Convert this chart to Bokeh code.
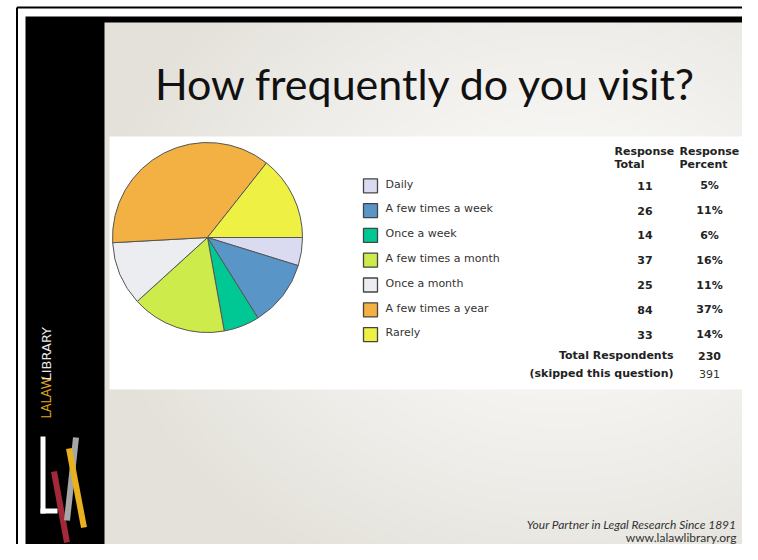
import math
import numpy as np
from bokeh.plotting import figure
from bokeh.models import ColumnDataSource, Range1d
from bokeh.core.properties import value
from bokeh.embed import file_html
from bokeh.resources import INLINE

# ---------------- data ----------------
categories = ["Daily", "A few times a week", "Once a week", "A few times a month",
              "Once a month", "A few times a year", "Rarely"]
response_total = [11, 26, 14, 37, 25, 84, 33]
response_percent = ["5%", "11%", "6%", "16%", "11%", "37%", "14%"]
total_respondents = 230
skipped = 391
title = "How frequently do you visit?"
palette = ["#DADAF0", "#5A95C7", "#00C894", "#CDEB4A", "#ECEDF1", "#F2B142", "#EEF043"]

# ---------------- figure ----------------
W, H = 742, 544
p = figure(width=W, height=H, x_range=Range1d(0, W), y_range=Range1d(0, H),
           output_backend="svg", toolbar_location=None,
           x_axis_location=None, y_axis_location=None, min_border=0,
           outline_line_color=None, background_fill_color="white",
           border_fill_color="white")
p.grid.visible = False


def X(px):
    return px


def Y(py):
    return H - py


# outer thin lines
p.segment(x0=[X(16.5), X(16.5)], y0=[-10, Y(7)], x1=[X(16.5), W + 10], y1=[Y(7), Y(7)],
          line_color="black", line_width=2)
# black slide frame
p.quad(left=[X(25)], right=[X(760)], top=[Y(16)], bottom=[-20], fill_color="black", line_color=None)

# slide background gradient
nx, ny = 161, 134
img = np.empty((ny, nx), dtype=np.uint32)
view = img.view(dtype=np.uint8).reshape((ny, nx, 4))
sx0, sx1, sy0, sy1 = 104, 748, 22, 556
cx, cy = 560, 250
c0 = (251, 251, 250)
c1 = (228, 225, 218)
for j in range(ny):
    py = sy1 - (j + 0.5) * (sy1 - sy0) / ny
    for i in range(nx):
        px = sx0 + (i + 0.5) * (sx1 - sx0) / nx
        d = math.hypot((px - cx) / 470.0, (py - cy) / 370.0)
        t = min(1.0, d) ** 1.3
        view[j, i, 0] = int(c0[0] + (c1[0] - c0[0]) * t)
        view[j, i, 1] = int(c0[1] + (c1[1] - c0[1]) * t)
        view[j, i, 2] = int(c0[2] + (c1[2] - c0[2]) * t)
        view[j, i, 3] = 255
p.image_rgba(image=[img], x=X(sx0), y=Y(sy1), dw=sx1 - sx0, dh=sy1 - sy0)

# white chart panel
p.quad(left=[X(109)], right=[X(748)], top=[Y(136)], bottom=[Y(389)], fill_color="white", line_color=None)

# title
p.text(x=[X(426)], y=[Y(83)], text=[title], text_font=value("Lato"), text_font_size="43px",
       text_align="center", text_baseline="alphabetic", text_color="#111111")

# ---------------- pie ----------------
total = float(sum(response_total))
cum = np.cumsum([0] + response_total) / total
starts = [-cum[i + 1] * 2 * math.pi for i in range(len(response_total))]
ends = [-cum[i] * 2 * math.pi for i in range(len(response_total))]
pie_src = ColumnDataSource(dict(start=starts, end=ends, color=palette, cat=categories))
p.wedge(x=X(207), y=Y(237), radius=95, start_angle="start", end_angle="end",
        fill_color="color", line_color="#555555", line_width=1, source=pie_src)

# ---------------- legend / table ----------------
row0, dy = 185.3, 24.8
rows_y = [Y(row0 + i * dy) for i in range(len(categories))]
p.rect(x=[X(370)] * len(categories), y=rows_y, width=14, height=14,
       fill_color=palette, line_color="#444444", line_width=1.3)
p.text(x=[X(385)] * len(categories), y=[y + 1.8 for y in rows_y], text=categories,
       text_font=value("DejaVu Sans"), text_font_size="11px", text_baseline="middle",
       text_color="#333333")

bold = dict(text_font=value("DejaVu Sans"), text_font_size="11px", text_font_style="bold",
            text_color="#222222")
p.text(x=[X(644.5)] * len(categories), y=rows_y, text=[str(v) for v in response_total],
       text_align="center", text_baseline="middle", **bold)
p.text(x=[X(709)] * len(categories), y=rows_y, text=response_percent,
       text_align="center", text_baseline="middle", **bold)

# headers
p.text(x=[X(614), X(614), X(679), X(679)], y=[Y(151), Y(164), Y(151), Y(164)],
       text=["Response", "Total", "Response", "Percent"],
       text_align="left", text_baseline="middle", **bold)

# totals
p.text(x=[X(673)], y=[Y(355)], text=["Total Respondents"], text_align="right",
       text_baseline="middle", **bold)
p.text(x=[X(709)], y=[Y(355)], text=[str(total_respondents)], text_align="center",
       text_baseline="middle", **bold)
p.text(x=[X(673)], y=[Y(373)], text=["(skipped this question)"], text_align="right",
       text_baseline="middle", **bold)
p.text(x=[X(709)], y=[Y(373)], text=[str(skipped)], text_align="center",
       text_baseline="middle", text_font=value("DejaVu Sans"), text_font_size="11px",
       text_color="#333333")

# ---------------- left bar branding ----------------
p.text(x=[X(46)], y=[Y(418)], text=["LALAW"], angle=math.pi / 2, text_font=value("Lato"),
       text_font_size="12.5px", text_align="left", text_baseline="middle", text_color="#E0A620")
p.text(x=[X(46)], y=[Y(380)], text=["LIBRARY"], angle=math.pi / 2, text_font=value("DejaVu Sans"),
       text_font_size="13px", text_align="left", text_baseline="middle", text_color="#E8E8E8")

# logo
p.quad(left=[X(40), X(40)], right=[X(45), X(57)], top=[Y(436), Y(508)], bottom=[Y(513), Y(513)],
       fill_color="white", line_color=None)
p.segment(x0=[X(53.5)], y0=[Y(471)], x1=[X(66.5)], y1=[Y(542)], line_color="#A3283A",
          line_width=6, line_cap="butt")
p.segment(x0=[X(75.5)], y0=[Y(437)], x1=[X(66.5)], y1=[Y(520)], line_color="#A6A6A6",
          line_width=6, line_cap="butt")
p.segment(x0=[X(68.5)], y0=[Y(448)], x1=[X(83.5)], y1=[Y(527)], line_color="#E9B11E",
          line_width=6, line_cap="butt")

# footer
p.text(x=[X(736)], y=[Y(524)], text=["Your Partner in Legal Research Since 1891"],
       text_font=value("Lato"), text_font_size="12px", text_font_style="italic",
       text_align="right", text_baseline="middle", text_color="#333333")
p.text(x=[X(736)], y=[Y(537)], text=["www.lalawlibrary.org"],
       text_font=value("Lato"), text_font_size="12px",
       text_align="right", text_baseline="middle", text_color="#333333")

open("out.html", "w").write(file_html(p, INLINE))
